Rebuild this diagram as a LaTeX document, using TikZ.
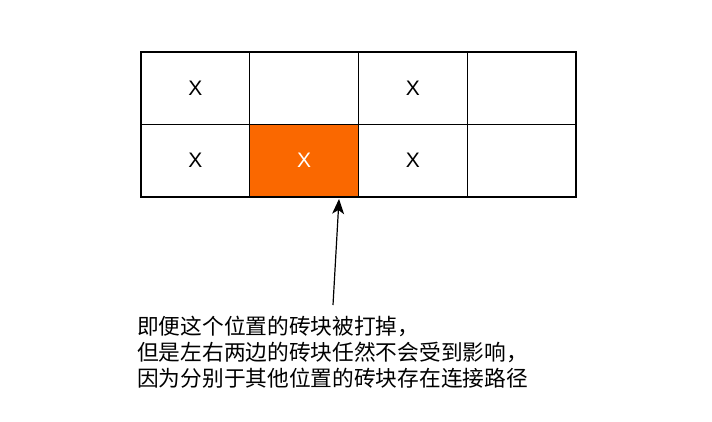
\documentclass[tikz,border=0pt]{standalone}
\usepackage{fontspec}
\setmainfont{Liberation Sans}
\newfontfamily\cjk{Noto Sans CJK SC}
\usetikzlibrary{arrows.meta}
\definecolor{brickorange}{HTML}{FA6800}
\begin{document}
\begin{tikzpicture}[
        x=1pt, y=-1pt,
        cell/.style={draw=black, line width=1.4pt, minimum width=108.75pt, minimum height=72.5pt, inner sep=0pt, font=\fontsize{21}{24}\selectfont},
        hit/.style={cell, fill=brickorange, text=white},
        pointer/.style={line width=1.2pt, -{Stealth[length=15pt, width=12pt, inset=4pt]}}
    ]

        \useasboundingbox (0, 0) rectangle (712, 422);

        \node[cell] (c11) at (195.375, 88.25) {X};
        \node[cell] (c12) at (304.125, 88.25) {};
        \node[cell] (c13) at (412.875, 88.25) {X};
        \node[cell] (c14) at (521.625, 88.25) {};
        \node[cell] (c21) at (195.375, 160.75) {X};
        \node[hit] (c22) at (304.125, 160.75) {X};
        \node[cell] (c23) at (412.875, 160.75) {X};
        \node[cell] (c24) at (521.625, 160.75) {};

        \coordinate (tail) at (333, 305);
        \coordinate (tip) at (339, 199);
        \draw[pointer] (tail) -- (tip);

        \node[anchor=west, align=left, inner sep=0pt, font=\cjk\fontsize{21.7}{26}\selectfont] (note) at (137, 352) {即便这个位置的砖块被打掉，\\但是左右两边的砖块任然不会受到影响，\\因为分别于其他位置的砖块存在连接路径};
    \end{tikzpicture}
\end{document}
